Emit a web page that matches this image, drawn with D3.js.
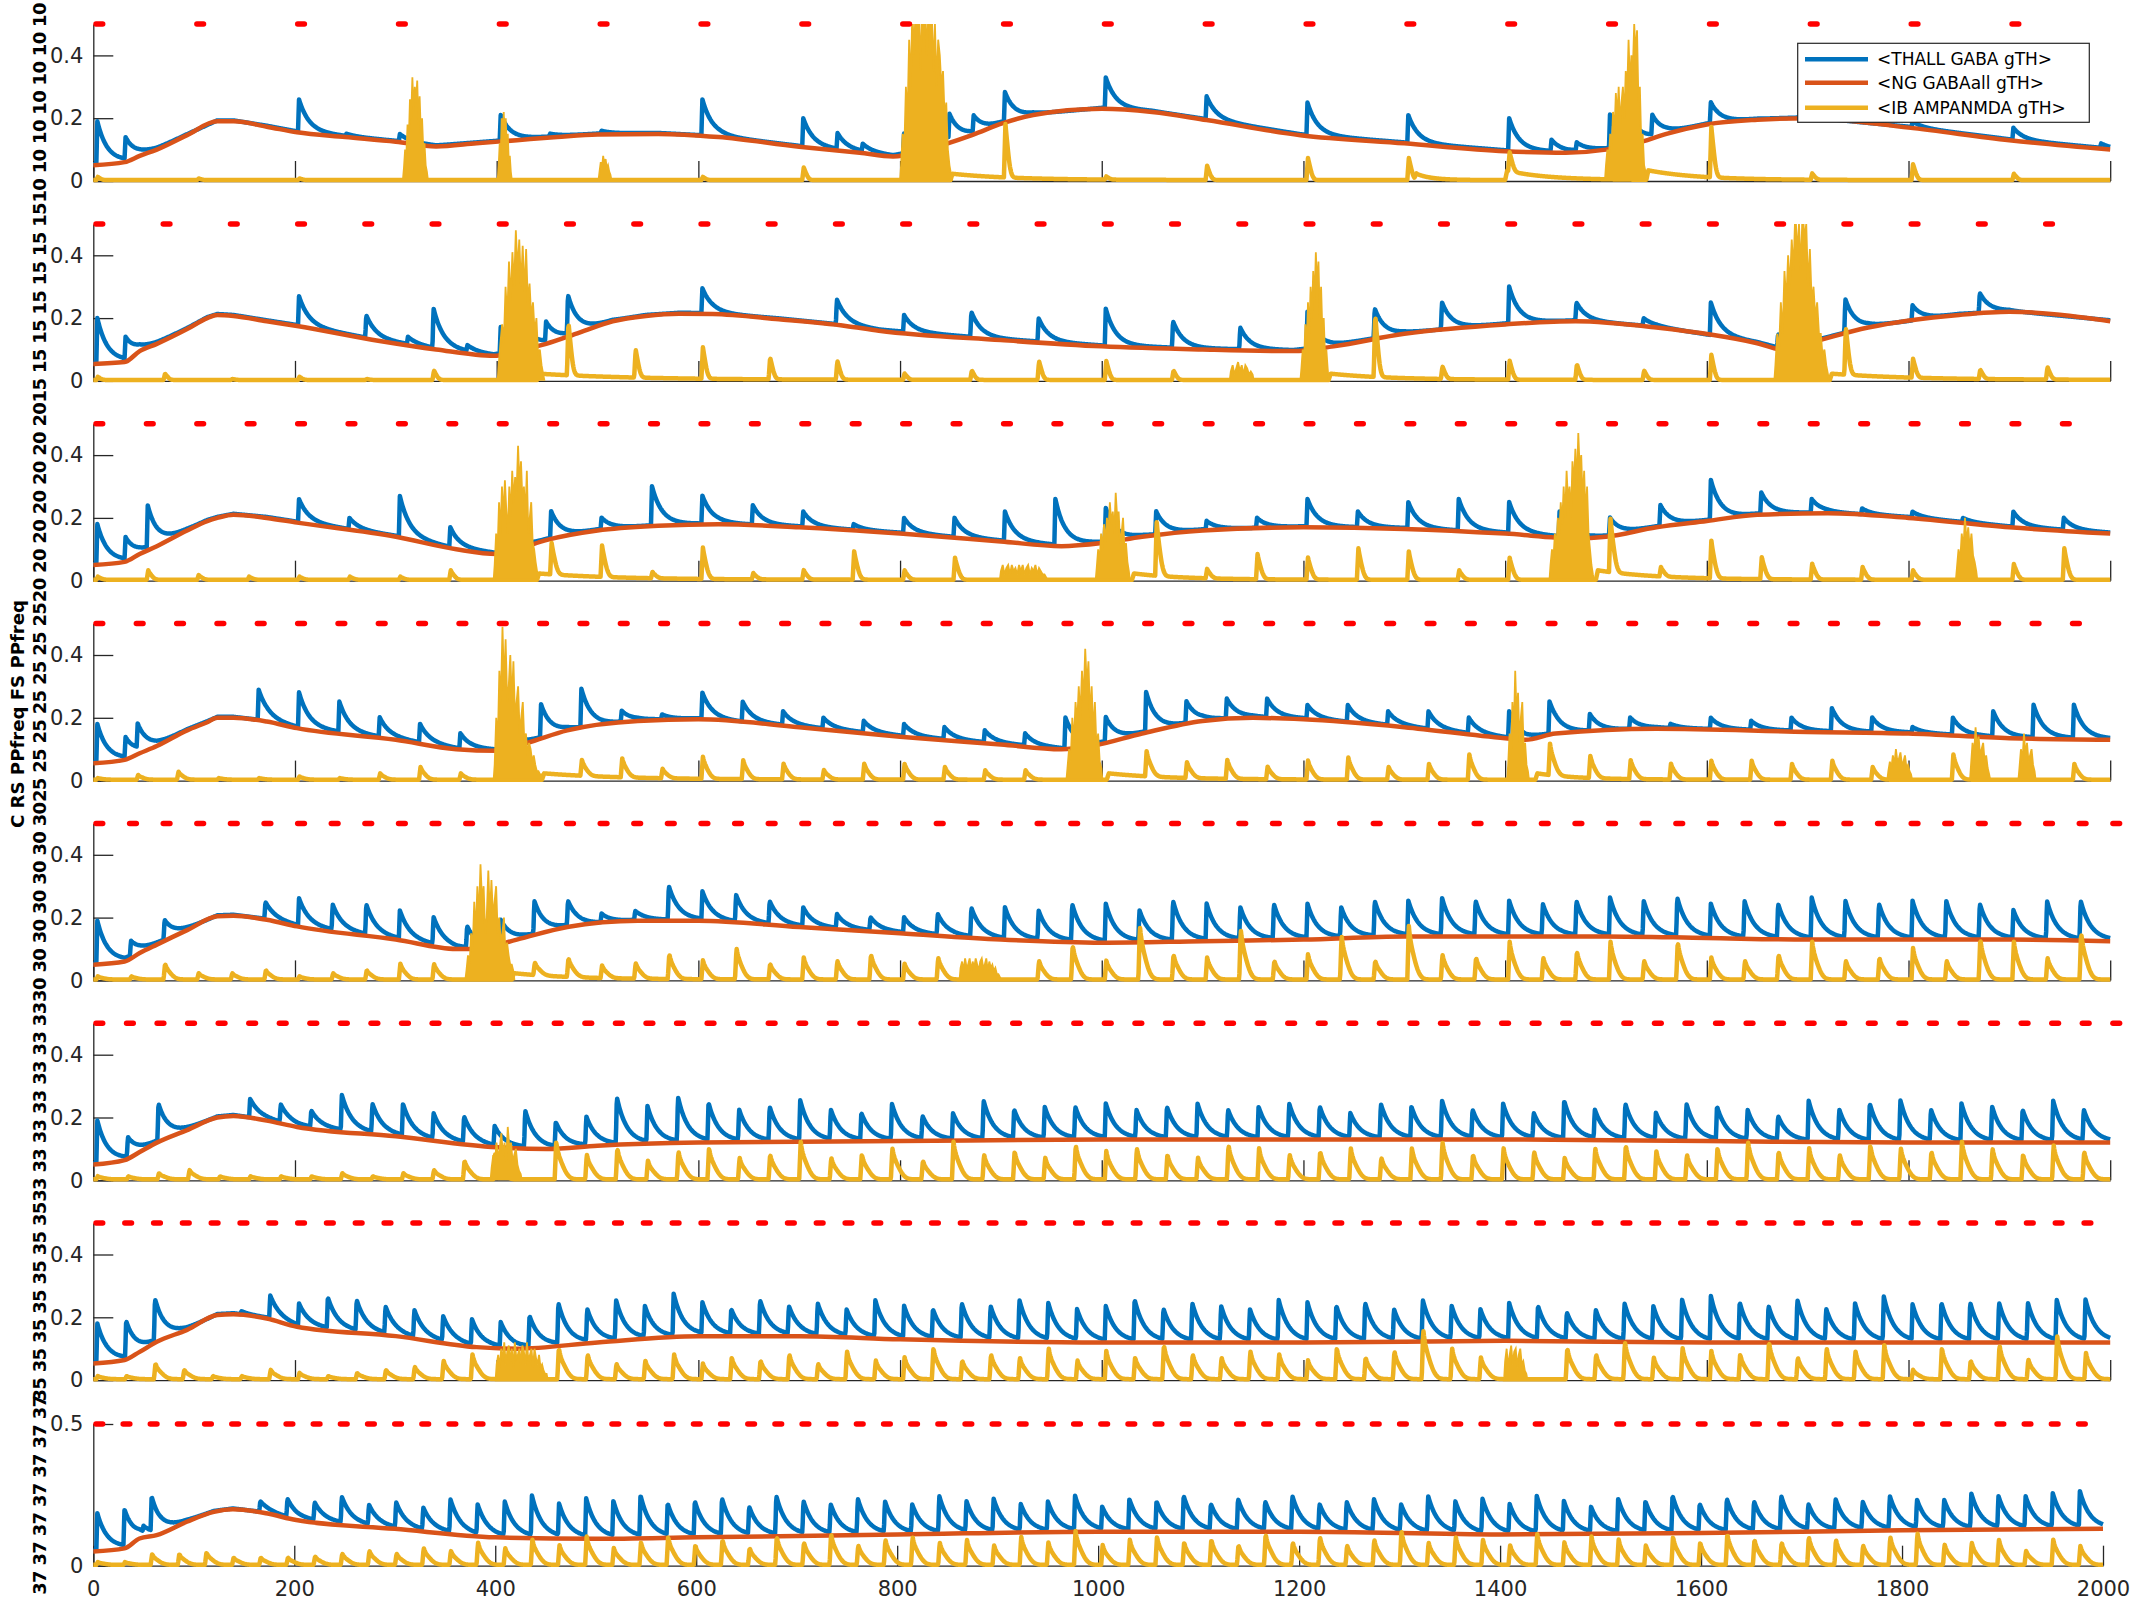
<!DOCTYPE html>
<html><head><meta charset="utf-8">
<script src="https://cdn.jsdelivr.net/npm/d3@7"></script>
<style>body{margin:0;background:#fff}svg{display:block}</style>
</head><body>
<svg id="chart" width="2133" height="1600"></svg>
<script>
// ---------------- DATA ----------------
const xTickValues = [0,200,400,600,800,1000,1200,1400,1600,1800,2000];
const yTickValues = [0,0.2,0.4];
const yTickValuesLast = [0,0.5];
const stimFreqs = [10,15,20,25,30,33,35,37];
const pulseCounts = [20,30,40,50,61,67,70,74];
const seriesNames = ["<THALL GABA gTH>","<NG GABAall gTH>","<IB AMPANMDA gTH>"];
const ylabelNumbers = ["10","15","20","25","30","33","35","37"];
const sideTitle = "C RS PPfreq FS PPfreq";

// orange: <NG GABAall gTH> key points [t, value]
const orange10 = [[0,.05],[31,.06],[46,.08],[63,.1],[93,.146],[123,.19],[139,.19],[172,.173],[202,.155],[250,.14],[300,.125],[340,.11],[380,.12],[420,.13],[460,.14],[500,.148],[560,.15],[620,.14],[700,.109],[760,.09],[793,.078],[826,.1],[872,.147],[902,.184],[932,.21],[1000,.23],[1050,.22],[1104,.194],[1197,.146],[1300,.12],[1400,.095],[1460,.09],[1500,.1],[1530,.12],[1560,.15],[1600,.18],[1650,.195],[1700,.2],[1800,.17],[1900,.13],[2000,.1]];
const orange15 = [[0,.054],[31,.06],[46,.095],[63,.118],[93,.165],[113,.2],[123,.21],[139,.207],[172,.19],[202,.175],[284,.127],[340,.1],[397,.08],[420,.095],[449,.118],[482,.154],[515,.19],[548,.207],[581,.214],[614,.213],[680,.196],[746,.175],[779,.16],[900,.13],[1000,.11],[1100,.1],[1190,.095],[1230,.11],[1300,.15],[1400,.18],[1470,.19],[1550,.17],[1650,.12],[1675,.1],[1700,.12],[1760,.17],[1850,.21],[1900,.22],[2000,.19]];
const orange20 = [[0,.05],[31,.06],[46,.085],[63,.11],[93,.16],[113,.19],[123,.2],[139,.21],[172,.2],[202,.185],[300,.14],[360,.1],[400,.085],[420,.1],[450,.13],[500,.16],[560,.175],[620,.18],[700,.17],[800,.15],[900,.125],[960,.11],[1000,.12],[1040,.14],[1100,.16],[1200,.17],[1300,.165],[1400,.15],[1470,.135],[1500,.14],[1550,.17],[1600,.19],[1650,.21],[1720,.215],[1800,.2],[1900,.17],[2000,.15]];
const orange25 = [[0,.055],[31,.066],[46,.087],[63,.11],[93,.16],[113,.186],[123,.2],[139,.2],[172,.188],[202,.167],[300,.13],[360,.1],[400,.095],[430,.12],[470,.16],[540,.19],[600,.195],[700,.17],[800,.14],[900,.115],[960,.1],[990,.11],[1040,.15],[1100,.19],[1150,.2],[1200,.195],[1300,.17],[1400,.135],[1420,.13],[1450,.15],[1550,.165],[1700,.155],[1800,.15],[1900,.135],[2000,.13]];
const orange30 = [[0,.05],[31,.06],[46,.087],[63,.114],[93,.16],[123,.204],[139,.206],[172,.193],[202,.172],[300,.13],[360,.1],[380,.1],[420,.13],[470,.17],[540,.19],[600,.19],[700,.17],[800,.15],[900,.13],[1000,.12],[1100,.125],[1200,.13],[1300,.14],[1400,.14],[1500,.14],[1600,.135],[1700,.13],[1800,.13],[1900,.13],[2000,.125]];
const orange33 = [[0,.05],[31,.064],[46,.09],[63,.12],[93,.16],[123,.2],[139,.205],[172,.19],[202,.17],[300,.14],[400,.105],[450,.1],[500,.11],[600,.12],[800,.125],[1000,.13],[1200,.13],[1400,.13],[1600,.125],[1800,.12],[2000,.12]];
const orange35 = [[0,.053],[31,.064],[46,.09],[63,.122],[93,.16],[123,.207],[139,.21],[172,.196],[202,.17],[300,.14],[380,.105],[420,.1],[500,.12],[600,.14],[700,.14],[800,.13],[1000,.12],[1200,.12],[1400,.125],[1600,.12],[1800,.12],[2000,.12]];
const orange37 = [[0,.05],[31,.061],[46,.096],[63,.108],[93,.155],[120,.19],[139,.199],[172,.185],[202,.161],[300,.13],[400,.1],[500,.095],[600,.1],[800,.11],[1000,.12],[1200,.12],[1400,.11],[1600,.115],[1800,.125],[2000,.13]];

// blue: <THALL GABA gTH> peak value after each stimulus pulse (0 = no event), plus extra events [t, peak]
const bluePk10 = [.19,0,.26,.15,.21,.16,.26,.20,.15,.28,.33,.27,.25,.21,.20,.21,.25,.21,.19,.17];
const blueX10 = [[31,.13],[250,.15],[452,.15],[737,.15],[762,.115],[813,.15],[826,.2],[848,.2],[872,.2],[1147,.16],[1445,.13],[1470,.12],[1520,.22],[1545,.2],[1990,.12]];
const bluePk15 = [.2,0,0,.27,.21,.23,.17,.265,0,.295,0,.26,.21,.22,.2,.23,.19,.17,.22,.23,.25,.30,.25,.2,.25,.15,.26,.24,.28,.2];
const blueX15 = [[31,.13],[311,.14],[370,.11],[423,.19],[448,.18],[1990,.17]];
const bluePk20 = [.18,.23,0,0,.26,.2,.27,.17,.2,.22, .2,.3,.27,.24,.22,.18,.2,.2,.22,.26, .23,.22,.19,.2,.26,.22,.25,.26,.25,.22, .2,.24,.32,.28,.26,.23,.22,.2,.22,.2];
const blueX20 = [[31,.13]];
const bluePk25 = [.18,.16,0,0,.29,.28,.25,.2,.18,.15, .2,.24,.29,.22,.21,.28,.25,.22,.2,.19, .18,.17,.16,.15,.2,.2,.28,.25,.26,.26, .24,.24,.22,.22,.2,.22,.25,.21,.2,.18, .2,.19,.2,.23,.2,.17,.2,.22,.24,.24];
const blueX25 = [[31,.13]];
const bluePk30 = [.19,.12,.19,0,0,.25,.26,.24,.24,.22, .2,.17,.19,.25,.25,.21,.22,.3,.28,.27, .25,.23,.21,.2,.2,.21,.23,.23,.22,.24, .24,.22,.25,.24,.23,.24,.24,.23,.25,.25, .26,.25,.25,.24,.25,.26,.25,.26,.24,.25, .24,.26,.25,.24,.25,.25,.24,.22,.25,.25, .14];
const blueX30 = [];
const bluePk33 = [.19,.13,.24,0,0,.26,.24,.22,.27,.24, .24,.21,.2,.17,.22,.18,.2,.26,.23,.26, .24,.22,.23,.25,.22,.21,.24,.2,.21,.25, .22,.23,.23,.24,.22,.23,.24,.22,.23,.24, .23,.21,.24,.23,.25,.22,.24,.21,.25,.22, .24,.21,.24,.23,.22,.2,.25,.22,.24,.25, .22,.24,.23,.22,.25,.22,.12];
const blueX33 = [];
const bluePk35 = [.18,.18,.25,0,0,.22,.27,.24,.26,.25, .23,.22,.2,.19,.18,.2,.24,.22,.25,.23, .27,.24,.22,.25,.23,.24,.22,.25,.23,.22, .24,.23,.25,.24,.22,.23,.25,.22,.24,.23, .22,.25,.24,.23,.24,.22,.25,.23,.22,.24, .23,.21,.22,.24,.23,.25,.26,.24,.23,.25, .22,.24,.26,.233,.24,.24,.24,.24,.25,.25];
const blueX35 = [];
const bluePk37 = [.185,.19,.226,0,0,0,.228,.235,.22,.24, .21,.22,.2,.23,.21,.22,.24,.21,.23,.22, .24,.21,.22,.23,.2,.24,.22,.21,.23,.22, .21,.24,.22,.23,.21,.22,.24,.2,.23,.22, .24,.21,.23,.22,.24,.21,.22,.23,.21,.24, .22,.23,.21,.24,.22,.2,.23,.22,.24,.21, .23,.22,.24,.21,.23,.22,.24,.226,.226,.249, .238,.238,.249,.255];
const blueX37 = [[49,.12]];

// yellow: <IB AMPANMDA gTH> peak after each pulse, extra slow events [t, peak, decay], dense bursts [start, step, envelope]
const yelPk10 = [.01,.005,.005,0,0,0,.01,.04,0,.17,.01,.045,.07,.07,.06,0,.16,.02,.05,.02];
const yelX10 = [[850,.02,60],[1400,.03,40],[1540,.03,50],[1310,.02,15]];
const burst10 = [
  [308,1.2,[.04,.1,.08,.18,.12,.26,.2,.33,.22,.3,.25,.32,.18,.27,.15,.2,.1,.12,.05,.03]],
  [402,1.0,[.05,.12,.08,.2,.14,.22,.12,.2,.1,.15,.06,.08,.03]],
  [502,1.2,[.03,.06,.04,.08,.05,.07,.04,.05,.03,.02]],
  [801,1.6,[.05,.15,.1,.3,.2,.45,.3,.55,.4,.55,.45,.55,.35,.55,.45,.55,.4,.55,.5,.55,.35,.5,.3,.45,.4,.3,.35,.2,.25,.1,.05,.02]],
  [1500,1.4,[.05,.1,.07,.15,.1,.22,.15,.28,.2,.3,.18,.25,.3,.2,.35,.28,.45,.3,.4,.35,.5,.4,.48,.25,.3,.12,.15,.05,.03]]
];
const yelPk15 = [.01,.02,.003,.01,.003,.03,0,.17,.09,.1,.07,.06,.02,.03,.06,.06,.03,0,0,.2,.04,.06,.05,.03,.08,0,.15,.06,.03,.04];
const yelX15 = [[440,.02,100],[1225,.02,60],[1722,.02,80]];
const burst15 = [
  [402,1.7,[.05,.12,.18,.12,.3,.2,.38,.25,.41,.3,.48,.35,.45,.3,.43,.28,.42,.25,.31,.2,.25,.15,.2,.08,.1,.05,.02]],
  [1128,1.8,[.03,.05,.02,.04,.06,.03,.05,.02,.05,.04,.02,.03,.02]],
  [1198,1.3,[.04,.1,.06,.18,.1,.25,.15,.3,.2,.35,.25,.41,.3,.38,.2,.3,.15,.2,.08,.1,.04]],
  [1668,1.8,[.05,.15,.1,.25,.15,.35,.25,.4,.3,.45,.35,.55,.4,.5,.35,.55,.45,.5,.3,.42,.25,.3,.2,.25,.15,.15,.08,.1,.05,.02]]
];
const yelPk20 = [.01,.03,.015,.01,.01,.01,.01,.03,0,.1, .1,.02,.1,.02,.03,.09,.03,.07,0,0, 0,.17,.03,.08,.07,.1,.09,.03,.07,0, .17,.03,.12,.07,.05,.04,.03,0,.05,.1];
const yelX20 = [[440,.02,80],[1030,.02,50],[1490,.03,60]];
const burst20 = [
  [398,1.45,[.05,.15,.1,.25,.15,.3,.2,.32,.22,.15,.3,.2,.35,.25,.33,.28,.43,.3,.38,.25,.3,.2,.35,.15,.2,.25,.12,.1,.06,.03]],
  [900,1.8,[.03,.05,.02,.04,.05,.02,.05,.03,.04,.02,.05,.03,.05,.02,.04,.05,.02,.04,.03,.05,.02,.04,.03,.02,.02,.01]],
  [995,1.45,[.04,.1,.06,.15,.1,.18,.12,.2,.15,.25,.18,.22,.15,.28,.2,.22,.12,.15,.2,.1,.12,.06,.03]],
  [1445,1.45,[.05,.1,.07,.15,.1,.2,.15,.25,.18,.3,.2,.35,.25,.3,.2,.38,.3,.42,.3,.47,.35,.4,.25,.35,.2,.3,.15,.1,.05,.02]],
  [1848,1.6,[.04,.1,.06,.15,.1,.2,.12,.17,.1,.15,.08,.06,.03]]
];
const yelPk25 = [.005,.015,.025,.005,.005,.01,.005,.02,.04,.02, 0,0,.05,.06,.03,.07,.06,.05,.03,.05, .05,.04,.03,.03,0,0,.08,.05,.06,.04, .06,.07,.04,.05,.08,0,.1,.07,.06,.05, .06,.06,.05,.06,.04,0,.08,0,0,.05];
const yelX25 = [[445,.02,80],[1005,.02,60],[1430,.02,40]];
const burst25 = [
  [398,1.55,[.05,.2,.12,.35,.25,.49,.3,.45,.25,.3,.4,.25,.38,.2,.25,.3,.15,.2,.25,.12,.15,.08,.12,.1,.06,.08,.05,.03,.03,.02,.02]],
  [966,1.6,[.04,.1,.06,.2,.12,.25,.18,.3,.2,.35,.25,.42,.3,.38,.2,.3,.15,.25,.1,.15,.06,.04]],
  [1403,1.4,[.05,.15,.08,.25,.15,.35,.2,.28,.12,.2,.25,.1,.12,.05,.03]],
  [1780,1.5,[.03,.06,.04,.08,.05,.1,.06,.07,.09,.05,.06,.08,.04,.05,.03,.02]],
  [1862,1.5,[.05,.12,.08,.17,.1,.14,.08,.1,.12,.06,.08,.04,.02]],
  [1910,1.5,[.04,.1,.06,.15,.08,.12,.06,.08,.1,.05,.03]]
];
const yelPk30 = [.01,.01,.05,.02,.02,.03,.01,.02,.03,.05, .05,0,0,.04,.06,.04,.05,.08,.06,.1, .05,.07,.06,.08,.05,.07,0,0,.06,.11, .06,.17,.08,.07,.16,.06,.08,.14,.06,.17, .08,.07,.12,.07,.09,.12,.06,.12,.07,.06, .08,.12,.06,.07,.1,.06,.13,.12,.07,.15, .1];
const yelX30 = [[415,.02,60]];
const burst30 = [
  [370,1.55,[.03,.08,.05,.15,.1,.25,.15,.3,.2,.37,.25,.3,.15,.2,.35,.2,.32,.2,.25,.3,.15,.2,.12,.15,.2,.08,.12,.08,.05,.05,.03]],
  [860,1.5,[.04,.06,.03,.07,.04,.05,.07,.03,.06,.04,.07,.05,.03,.06,.07,.04,.05,.07,.03,.06,.04,.05,.03,.04,.02,.02,.01]]
];
const yelPk33 = [.01,.01,.02,.03,.01,.01,.01,.01,.02,.01, .02,.03,.06,.08,0,.12,.08,.1,.06,.09, .1,.07,.08,.12,.07,.08,.1,.06,.12,.08, .09,.07,.11,.09,.1,.08,.07,.11,.1,.08, .09,.1,.07,.1,.12,.08,.1,.09,.07,.1, .11,.09,.08,.1,.12,.09,.1,.08,.11,.1, .09,.12,.1,.08,.11,.09,.03];
const yelX33 = [];
const burst33 = [[395,1.6,[.04,.08,.05,.12,.07,.1,.15,.08,.12,.06,.17,.1,.12,.06,.08,.1,.05,.03,.02]]];
const yelPk35 = [.01,.01,.05,.03,.01,.01,.03,.02,.01,.02, .03,.04,.06,.08,0,0,.1,.08,.05,.06, .08,.05,.07,.06,.08,.05,.09,.06,.07,.1, .06,.08,.07,.1,.06,.09,.07,.11,.08,.07, .09,.08,.06,.1,.07,.09,.16,.1,.07,0, 0,.1,.08,.12,.07,.1,.09,.08,.12,.07, .1,.09,.11,.03,.1,.06,.11,.064,.14,.085];
const yelX35 = [];
const burst35 = [
  [400,1.5,[.05,.08,.04,.1,.06,.12,.05,.09,.11,.06,.1,.04,.12,.07,.08,.1,.05,.11,.09,.05,.12,.06,.08,.1,.04,.1,.07,.05,.08,.04,.05,.03,.02,.02]],
  [1400,1.5,[.06,.1,.04,.08,.11,.05,.09,.1,.04,.08,.1,.05,.06,.03,.02]]
];
const yelPk37 = [.01,.01,.038,.038,.044,.026,.026,.026,.03,.04, .05,.04,.06,.05,.08,.06,.09,.07,.1,.06, .08,.1,.07,.09,.06,.1,.08,.11,.07,.09, .1,.08,.09,.07,.1,.08,.12,.07,.09,.1, .08,.09,.07,.11,.08,.1,.07,.09,.12,.08, .1,.09,.07,.11,.08,.1,.09,.07,.1,.08, .11,.09,.08,.1,.09,.07,.1,.114,.073,.079, .09,.05,.09,.067];
const yelX37 = [];
const burst37 = [];

// ---------------- LAYOUT / STYLE ----------------
const W = 2133, H = 1600;
const X0 = 93.3;
const xRight = [2110.2,2110.2,2110.2,2110.2,2110.2,2110.2,2110.2,2103];
const zeroY = [181,380.9,580.7,780.6,980.4,1180.3,1380.1,1565.7];
const topY  = [24,223.9,423.7,623.6,823.4,1023.3,1223.1,1424];
const COLORS = ["#0072BD","#D95319","#EDB120"];
const AX = "#262626";
const LW = 4.5;
const BLUE_TAU = 10, BLUE_DELAY = 3, YEL_DELAY = 3;
const YEL_SHOULDER = [4,4,5,7,8,9,9,9];

const panels = [
  {orange:orange10,bluePk:bluePk10,blueX:blueX10,yelPk:yelPk10,yelX:yelX10,bursts:burst10},
  {orange:orange15,bluePk:bluePk15,blueX:blueX15,yelPk:yelPk15,yelX:yelX15,bursts:burst15},
  {orange:orange20,bluePk:bluePk20,blueX:blueX20,yelPk:yelPk20,yelX:yelX20,bursts:burst20},
  {orange:orange25,bluePk:bluePk25,blueX:blueX25,yelPk:yelPk25,yelX:yelX25,bursts:burst25},
  {orange:orange30,bluePk:bluePk30,blueX:blueX30,yelPk:yelPk30,yelX:yelX30,bursts:burst30},
  {orange:orange33,bluePk:bluePk33,blueX:blueX33,yelPk:yelPk33,yelX:yelX33,bursts:burst33},
  {orange:orange35,bluePk:bluePk35,blueX:blueX35,yelPk:yelPk35,yelX:yelX35,bursts:burst35},
  {orange:orange37,bluePk:bluePk37,blueX:blueX37,yelPk:yelPk37,yelX:yelX37,bursts:burst37}
];

const svg = d3.select("#chart");
svg.append("rect").attr("width",W).attr("height",H).attr("fill","#fff");
const defs = svg.append("defs");
const FONT = "'DejaVu Sans', sans-serif";

panels.forEach((p, i) => {
  const f = stimFreqs[i], n = pulseCounts[i], period = 1000 / f;
  const xs = d3.scaleLinear().domain([0,2000]).range([X0, xRight[i]]);
  const ys = d3.scaleLinear().domain([0,0.5]).range([zeroY[i], topY[i]]);
  const g = svg.append("g");

  // axes (beneath data)
  const yAxis = d3.axisLeft(ys).tickValues(i === 7 ? yTickValuesLast : yTickValues)
      .tickSizeInner(-20).tickSizeOuter(0).tickPadding(10).tickFormat(d => String(d));
  const xAxis = d3.axisBottom(xs).tickValues(xTickValues)
      .tickSizeInner(-20).tickSizeOuter(0).tickPadding(15)
      .tickFormat(i === 7 ? d3.format("d") : () => "");
  const ga = g.append("g").attr("transform", `translate(${X0},0)`).call(yAxis);
  const gx = g.append("g").attr("transform", `translate(0,${zeroY[i]})`).call(xAxis);
  [ga, gx].forEach(a => {
    a.selectAll("path,line").attr("stroke", AX).attr("stroke-width", 1.3);
    a.selectAll("text").attr("fill", AX).attr("font-family", FONT).attr("font-size", 21);
  });

  const cid = "clip" + i;
  defs.append("clipPath").attr("id", cid).append("rect")
    .attr("x", X0 - 4).attr("y", topY[i]).attr("width", xRight[i] - X0 + 8)
    .attr("height", zeroY[i] - topY[i] + 10);
  const gd = g.append("g").attr("clip-path", `url(#${cid})`);

  const base = d3.scaleLinear().domain(p.orange.map(d => d[0])).range(p.orange.map(d => d[1])).clamp(true);
  const grid = d3.range(0, 2000.001, 0.5);

  const bEv = [];
  p.bluePk.slice(0, n).forEach((v, k) => { if (v > 0) bEv.push([k * period + BLUE_DELAY, v]); });
  p.blueX.forEach(e => bEv.push(e));
  const bAmp = bEv.map(([t, v]) => [t, Math.max(0, v - base(t) - 0.003)]);
  const blue = grid.map(t => {
    let y = base(t) + 0.003;
    for (const [ts, a] of bAmp) {
      const s = t - ts;
      if (s < 0 || s > 100) continue;
      y += s < 1 ? a * s : a * Math.exp(-(s - 1) / BLUE_TAU);
    }
    return [t, y];
  });

  const yEv = [];
  p.yelPk.slice(0, n).forEach((v, k) => { if (v > 0) yEv.push([k * period + YEL_DELAY, v, 0]); });
  p.yelX.forEach(e => yEv.push(e));
  const sh = YEL_SHOULDER[i];
  const yel = grid.map(t => {
    let y = 0.003;
    for (const [ts, a, tau] of yEv) {
      const s = t - ts;
      if (s < 0) continue;
      if (tau > 0) {                       // slow elevated plateau
        if (s > tau * 10) continue;
        y += s < 2 ? a * s / 2 : a * Math.exp(-(s - 2) / tau);
      } else {                             // fast event: sharp peak + shoulder
        if (s > 45) continue;
        if (s < 1.5) { y += a * s / 1.5; continue; }
        const u = s - 1.5;
        y += a * (0.4 * Math.exp(-u / 1.8) + 0.6 * Math.exp(-(u / sh) * (u / sh)));
      }
    }
    return [t, y];
  });

  const line = d3.line().x(d => xs(d[0])).y(d => ys(d[1]));
  gd.append("path").datum(blue).attr("d", line).attr("fill", "none")
    .attr("stroke", COLORS[0]).attr("stroke-width", LW).attr("stroke-linejoin", "round");
  gd.append("path").datum(p.orange).attr("d", d3.line().x(d => xs(d[0])).y(d => ys(d[1])).curve(d3.curveMonotoneX))
    .attr("fill", "none").attr("stroke", COLORS[1]).attr("stroke-width", LW).attr("stroke-linejoin", "round");
  gd.append("path").datum(yel).attr("d", line).attr("fill", "none")
    .attr("stroke", COLORS[2]).attr("stroke-width", LW).attr("stroke-linejoin", "round");

  const area = d3.area().x(d => xs(d[0])).y0(ys(0.003)).y1(d => ys(d[1]));
  p.bursts.forEach(([t0, step, vals]) => {
    const pts = [[t0 - 1, 0.003]].concat(vals.map((v, j) => [t0 + j * step, v]))
      .concat([[t0 + (vals.length - 1) * step + 1, 0.003]]);
    gd.append("path").datum(pts).attr("d", area).attr("fill", COLORS[2])
      .attr("stroke", COLORS[2]).attr("stroke-width", 1.8).attr("stroke-linejoin", "miter");
  });

  // stimulus pulses (red) at 0.5
  const pulses = d3.range(n).map(k => k * period);
  g.append("g").selectAll("line").data(pulses).join("line")
    .attr("x1", t => xs(t + 2.7)).attr("x2", t => xs(t + 9.3))
    .attr("y1", ys(0.5)).attr("y2", ys(0.5))
    .attr("stroke", "#FF0000").attr("stroke-width", 5.5).attr("stroke-linecap", "round");

  // rotated numeric y-label
  const cy = (zeroY[i] + topY[i]) / 2;
  svg.append("text").attr("transform", `translate(45.5,${cy}) rotate(-90)`)
    .attr("text-anchor", "middle").attr("font-family", FONT).attr("font-weight", "bold")
    .attr("font-size", 18).attr("fill", "#000")
    .attr("textLength", 200).attr("lengthAdjust", "spacing")
    .text(Array(7).fill(ylabelNumbers[i]).join(" "));
});

// side title
svg.append("text").attr("transform", "translate(23.5,714) rotate(-90)")
  .attr("text-anchor", "middle").attr("font-family", FONT).attr("font-weight", "bold")
  .attr("font-size", 18).attr("fill", "#000")
  .attr("textLength", 228).attr("lengthAdjust", "spacingAndGlyphs").text(sideTitle);

// legend
const lg = svg.append("g");
lg.append("rect").attr("x", 1797.7).attr("y", 43.3).attr("width", 291.6).attr("height", 79)
  .attr("fill", "#fff").attr("stroke", AX).attr("stroke-width", 1.2);
const legY = [59.3, 82.7, 107.7];
seriesNames.forEach((name, j) => {
  lg.append("line").attr("x1", 1805).attr("x2", 1868).attr("y1", legY[j]).attr("y2", legY[j])
    .attr("stroke", COLORS[j]).attr("stroke-width", LW);
  lg.append("text").attr("x", 1877).attr("y", legY[j]).attr("dy", "0.36em")
    .attr("font-family", FONT).attr("font-size", 17).attr("fill", "#000").text(name);
});
</script>
</body></html>
